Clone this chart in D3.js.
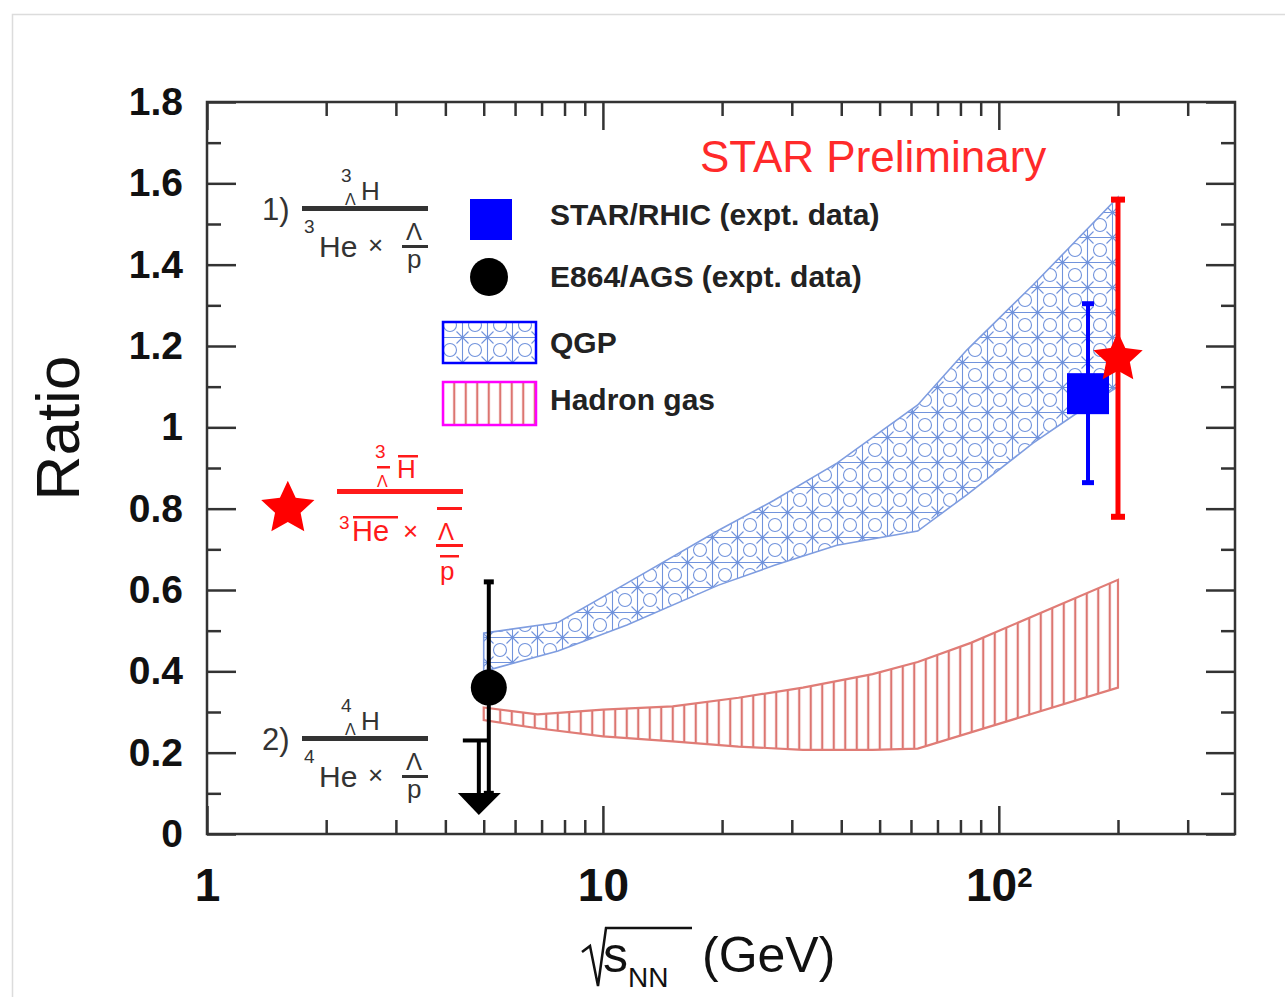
<!DOCTYPE html>
<html>
<head>
<meta charset="utf-8">
<script src="https://cdn.jsdelivr.net/npm/d3@7"></script>
<style>
  body { margin: 0; background: #fff; }
  text { font-family: "Liberation Sans", Arial, Helvetica, sans-serif; }
</style>
</head>
<body>
<svg id="chart" width="1285" height="997"></svg>
<script>
// model bands (sqrt(s_NN) in GeV vs ratio)
const qgpEnergy = [5.0, 7.7, 11.5, 19.6, 27, 39, 62.4, 83, 122, 157, 200];
const qgpUpper = [0.494, 0.52, 0.617, 0.747, 0.82, 0.912, 1.055, 1.19, 1.35, 1.46, 1.566];
const qgpLower = [0.40, 0.45, 0.514, 0.612, 0.66, 0.71, 0.745, 0.834, 0.961, 1.034, 1.10];

const hadronEnergy = [5.0, 6.84, 10, 15, 22, 32, 48, 62.4, 85, 200];
const hadronUpper = [0.311, 0.294, 0.306, 0.314, 0.335, 0.36, 0.393, 0.423, 0.47, 0.625];
const hadronLower = [0.28, 0.26, 0.24, 0.228, 0.215, 0.207, 0.207, 0.21, 0.25, 0.36];

// measurements
const rhicEnergy = [168], rhicRatio = [1.084], rhicErr = [0.22];
const antiEnergy = [200], antiRatio = [1.17], antiErr = [0.39];
const agsEnergy = [5.15], agsRatio = [0.36], agsErr = [0.26];
const limitEnergy = [4.86], limitRatio = [0.23], limitTip = [0.047];
const antiLegendPos = [1.6, 0.80];

// axis ticks
const yMajor = [0, 0.2, 0.4, 0.6, 0.8, 1, 1.2, 1.4, 1.6, 1.8];
const yMinor = [0.1, 0.3, 0.5, 0.7, 0.9, 1.1, 1.3, 1.5, 1.7];
const xMajor = [1, 10, 100];
const xMinor = [2, 3, 4, 5, 6, 7, 8, 9, 20, 30, 40, 50, 60, 70, 80, 90, 200, 300];

const svg = d3.select("#chart");
const frame = { left: 207, right: 1235, top: 102, bottom: 834 };
const x = d3.scaleLog().domain([1, 395]).range([frame.left, frame.right]);
const y = d3.scaleLinear().domain([0, 1.8]).range([frame.bottom, frame.top]);
const ink = "#333";

// outer light border
svg.append("rect").attr("x", 12.5).attr("y", 14.5).attr("width", 1300).attr("height", 1000)
  .attr("fill", "#fff").attr("stroke", "#dcdcdc").attr("stroke-width", 1.5);

// patterns
const defs = svg.append("defs");
const qp = defs.append("pattern").attr("id", "qgp").attr("patternUnits", "userSpaceOnUse")
  .attr("width", 25).attr("height", 25);
const qcol = "#7193dc";
qp.append("path").attr("d", "M12.5,0V25M0,12.5H25M6.5,6.5L18.5,18.5M6.5,18.5L18.5,6.5")
  .attr("stroke", qcol).attr("stroke-width", 1.1).attr("fill", "none");
[[0, 0], [25, 0], [0, 25], [25, 25]].forEach(([cx, cy]) => {
  qp.append("circle").attr("cx", cx).attr("cy", cy).attr("r", 6.5)
    .attr("fill", "none").attr("stroke", qcol).attr("stroke-width", 1.1);
});
const hp = defs.append("pattern").attr("id", "hadron").attr("patternUnits", "userSpaceOnUse")
  .attr("width", 11.5).attr("height", 20);
hp.append("line").attr("x1", 5.75).attr("x2", 5.75).attr("y1", 0).attr("y2", 20)
  .attr("stroke", "#dc7570").attr("stroke-width", 2.2);

// bands
const band = d3.area().x(d => x(d.e)).y0(d => y(d.lo)).y1(d => y(d.hi));
const qgpData = qgpEnergy.map((e, i) => ({ e, lo: qgpLower[i], hi: qgpUpper[i] }));
const hadData = hadronEnergy.map((e, i) => ({ e, lo: hadronLower[i], hi: hadronUpper[i] }));

svg.append("path").datum(qgpData).attr("d", band)
  .attr("fill", "url(#qgp)").attr("stroke", "#7f9de0").attr("stroke-width", 1.6);
svg.append("path").datum(hadData).attr("d", band)
  .attr("fill", "url(#hadron)").attr("stroke", "#e07c76").attr("stroke-width", 2.2);

// frame
svg.append("rect").attr("x", frame.left).attr("y", frame.top)
  .attr("width", frame.right - frame.left).attr("height", frame.bottom - frame.top)
  .attr("fill", "none").attr("stroke", ink).attr("stroke-width", 2.5);

function styleAxis(g) {
  g.select(".domain").remove();
  g.selectAll(".tick line").attr("stroke", ink).attr("stroke-width", 2.5);
  g.selectAll(".tick text").attr("fill", "#111").attr("font-weight", "bold");
}

// left axis with labels
svg.append("g").attr("transform", `translate(${frame.left},0)`)
  .call(d3.axisLeft(y).tickValues(yMajor).tickSize(-29).tickPadding(24)
    .tickFormat(d => (d === 0 || d === 1) ? String(d) : d.toFixed(1)))
  .call(styleAxis)
  .selectAll(".tick text").attr("font-size", 39);
svg.append("g").attr("transform", `translate(${frame.left},0)`)
  .call(d3.axisLeft(y).tickValues(yMinor).tickSize(-14).tickFormat(""))
  .call(styleAxis);
// right axis
svg.append("g").attr("transform", `translate(${frame.right},0)`)
  .call(d3.axisRight(y).tickValues(yMajor).tickSize(-29).tickFormat(""))
  .call(styleAxis);
svg.append("g").attr("transform", `translate(${frame.right},0)`)
  .call(d3.axisRight(y).tickValues(yMinor).tickSize(-14).tickFormat(""))
  .call(styleAxis);

// bottom axis with labels
const bottom = svg.append("g").attr("transform", `translate(0,${frame.bottom})`)
  .call(d3.axisBottom(x).tickValues(xMajor).tickSize(-28).tickPadding(34).tickFormat(d => d === 100 ? "10" : String(d)))
  .call(styleAxis);
bottom.selectAll(".tick text").attr("font-size", 46)
  .each(function (d) {
    if (d === 100) {
      d3.select(this).append("tspan").attr("dy", "-0.5em").attr("font-size", "0.6em").text("2");
    }
  });
svg.append("g").attr("transform", `translate(0,${frame.bottom})`)
  .call(d3.axisBottom(x).tickValues(xMinor).tickSize(-14).tickFormat(""))
  .call(styleAxis);
// top axis
svg.append("g").attr("transform", `translate(0,${frame.top})`)
  .call(d3.axisTop(x).tickValues(xMajor).tickSize(-28).tickFormat(""))
  .call(styleAxis);
svg.append("g").attr("transform", `translate(0,${frame.top})`)
  .call(d3.axisTop(x).tickValues(xMinor).tickSize(-14).tickFormat(""))
  .call(styleAxis);

// axis titles
svg.append("text").attr("transform", "translate(79,428) rotate(-90)")
  .attr("text-anchor", "middle").attr("font-size", 62).attr("fill", "#111").text("Ratio");
svg.append("path").attr("d", "M582,952L590,946L598,986L606,928H692")
  .attr("fill", "none").attr("stroke", "#111").attr("stroke-width", 2.5);
svg.append("text").attr("x", 603).attr("y", 972).attr("font-size", 50).attr("fill", "#111").text("s");
svg.append("text").attr("x", 628).attr("y", 987).attr("font-size", 28).attr("fill", "#111").text("NN");
svg.append("text").attr("x", 702).attr("y", 972).attr("font-size", 50).attr("fill", "#111").text("(GeV)");

// STAR Preliminary
svg.append("text").attr("x", 700).attr("y", 172).attr("font-size", 44).attr("fill", "#ff2a2a")
  .text("STAR Preliminary");

// measurements: error bars
function errorBar(xv, yv, err, color, w, cap) {
  svg.append("line").attr("x1", x(xv)).attr("x2", x(xv)).attr("y1", y(yv - err)).attr("y2", y(yv + err))
    .attr("stroke", color).attr("stroke-width", w);
  [yv - err, yv + err].forEach(v => {
    svg.append("line").attr("x1", x(xv) - cap).attr("x2", x(xv) + cap).attr("y1", y(v)).attr("y2", y(v))
      .attr("stroke", color).attr("stroke-width", w + 1);
  });
}

// upper limit arrow (4-Lambda-H)
limitEnergy.forEach((e, i) => {
  const cx = x(e);
  svg.append("line").attr("x1", cx - 16).attr("x2", x(agsEnergy[0])).attr("y1", y(limitRatio[i])).attr("y2", y(limitRatio[i]))
    .attr("stroke", "#000").attr("stroke-width", 4);
  svg.append("line").attr("x1", cx).attr("x2", cx).attr("y1", y(limitRatio[i])).attr("y2", y(limitTip[i]) - 20)
    .attr("stroke", "#000").attr("stroke-width", 4);
  svg.append("path").attr("d", `M${cx - 21},${y(limitTip[i]) - 22}L${cx + 22},${y(limitTip[i]) - 22}L${cx},${y(limitTip[i])}Z`)
    .attr("fill", "#000");
});

agsEnergy.forEach((e, i) => errorBar(e, agsRatio[i], agsErr[i], "#000", 4, 5));
rhicEnergy.forEach((e, i) => errorBar(e, rhicRatio[i], rhicErr[i], "#0000ff", 4, 6));
antiEnergy.forEach((e, i) => errorBar(e, antiRatio[i], antiErr[i], "#ff0000", 5, 7));

const starType = {
  draw(ctx, size) {
    const R = Math.sqrt(size), r = R * 0.48;
    for (let k = 0; k < 10; k++) {
      const a = -Math.PI / 2 + k * Math.PI / 5, rr = k % 2 ? r : R;
      const px = rr * Math.cos(a), py = rr * Math.sin(a);
      k ? ctx.lineTo(px, py) : ctx.moveTo(px, py);
    }
    ctx.closePath();
  }
};

svg.selectAll(".ags").data(agsEnergy).enter().append("circle")
  .attr("cx", d => x(d)).attr("cy", (d, i) => y(agsRatio[i])).attr("r", 18).attr("fill", "#000");
svg.selectAll(".rhic").data(rhicEnergy).enter().append("rect")
  .attr("x", d => x(d) - 21).attr("y", (d, i) => y(rhicRatio[i]) - 20).attr("width", 42).attr("height", 41)
  .attr("fill", "#0000ff");
svg.selectAll(".anti").data(antiEnergy).enter().append("path")
  .attr("transform", (d, i) => `translate(${x(d)},${y(antiRatio[i])})`)
  .attr("d", d3.symbol().type(starType).size(26 * 26)).attr("fill", "#ff0000");
svg.append("path").attr("transform", `translate(${x(antiLegendPos[0])},${y(antiLegendPos[1])})`)
  .attr("d", d3.symbol().type(starType).size(28 * 28)).attr("fill", "#ff0000");

// legend
const lg = svg.append("g");
lg.append("rect").attr("x", 470).attr("y", 199).attr("width", 42).attr("height", 41).attr("fill", "#0000ff");
lg.append("circle").attr("cx", 489).attr("cy", 277).attr("r", 19).attr("fill", "#000");
lg.append("rect").attr("x", 443).attr("y", 322).attr("width", 93).attr("height", 41)
  .attr("fill", "url(#qgp)").attr("stroke", "#0000ff").attr("stroke-width", 2.5);
lg.append("rect").attr("x", 443).attr("y", 382).attr("width", 93).attr("height", 43)
  .attr("fill", "url(#hadron)").attr("stroke", "#ff00ff").attr("stroke-width", 2.5);
const legendLabels = [["STAR/RHIC (expt. data)", 225], ["E864/AGS (expt. data)", 287], ["QGP", 353], ["Hadron gas", 410]];
legendLabels.forEach(([txt, by]) => {
  lg.append("text").attr("x", 550).attr("y", by).attr("font-size", 30).attr("font-weight", "bold")
    .attr("fill", "#222").text(txt);
});

// ratio formulas
function t(g, xx, yy, str, size, color) {
  return g.append("text").attr("x", xx).attr("y", yy).attr("font-size", size).attr("fill", color).text(str);
}
function bar(g, x0, x1, yy, h, color) {
  g.append("rect").attr("x", x0).attr("y", yy).attr("width", x1 - x0).attr("height", h).attr("fill", color);
}
function formula(dy, idx, A) {
  const g = svg.append("g").attr("transform", `translate(0,${dy})`);
  const c = "#333";
  t(g, 262, 220, idx, 31, c);
  bar(g, 302, 428, 206, 5, c);
  t(g, 341, 182, A, 19, c);
  t(g, 345, 205, "Λ", 16, c);
  t(g, 361, 200, "H", 26, c);
  t(g, 304, 233, A, 19, c);
  t(g, 319, 257, "He", 30, c);
  t(g, 368, 254, "×", 26, c);
  t(g, 406, 240, "Λ", 24, c);
  bar(g, 402, 428, 245, 3, c);
  t(g, 407, 268, "p", 26, c);
}
formula(0, "1)", "3");
formula(530, "2)", "4");

// anti-hypertriton ratio (red)
const rg = svg.append("g");
const rc = "#ff1a1a";
t(rg, 375, 458, "3", 19, rc);
bar(rg, 377, 390, 466, 2.5, rc);
t(rg, 377, 487, "Λ", 16, rc);
bar(rg, 398, 418, 455, 2.5, rc);
t(rg, 397, 478, "H", 26, rc);
bar(rg, 337, 463, 489, 5, rc);
t(rg, 339, 529, "3", 19, rc);
bar(rg, 353, 398, 516, 2.5, rc);
t(rg, 352, 541, "He", 29, rc);
t(rg, 403, 540, "×", 26, rc);
bar(rg, 437, 462, 507, 3, rc);
t(rg, 438, 540, "Λ", 24, rc);
bar(rg, 436, 463, 544, 3, rc);
bar(rg, 440, 459, 555, 2.5, rc);
t(rg, 440, 580, "p", 26, rc);
</script>
</body>
</html>
